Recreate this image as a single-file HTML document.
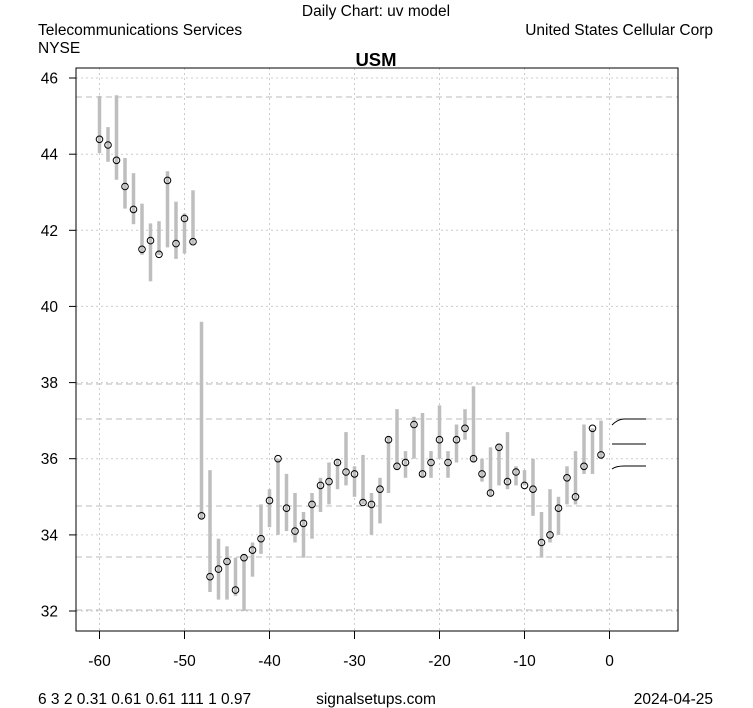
<!DOCTYPE html>
<html><head><meta charset="utf-8"><style>
body{margin:0;background:#fff;}
svg{display:block;font-family:"Liberation Sans",Arial,sans-serif;}
</style></head><body>
<svg id="s" width="753" height="708" viewBox="0 0 753 708" xmlns="http://www.w3.org/2000/svg">
<rect width="753" height="708" fill="#fff"/>
<text x="376" y="16" font-size="15.5" text-anchor="middle">Daily Chart: uv model</text>
<text x="38" y="35" font-size="15.5">Telecommunications Services</text>
<text x="38" y="53" font-size="15.5">NYSE</text>
<text x="713" y="35" font-size="15.5" text-anchor="end">United States Cellular Corp</text>
<text x="376" y="66" font-size="18.5" font-weight="bold" text-anchor="middle">USM</text>
<g id="g"></g>
<rect x="76" y="68" width="602" height="563" fill="none" stroke="#000" stroke-width="1"/>
<text x="38" y="704" font-size="15.5">6 3 2 0.31 0.61 0.61 111 1 0.97</text>
<text x="376" y="704" font-size="15.5" text-anchor="middle">signalsetups.com</text>
<text x="713" y="704" font-size="15.5" text-anchor="end">2024-04-25</text>
</svg>
<script>
var g=document.getElementById('g'),h='';
function X(d){return 99.5+(d+60)*8.5;}
function Y(v){return 611-(v-32)*38.07;}
for(var v=32;v<=46;v+=2){var y=Y(v).toFixed(1);h+='<line x1="76" x2="678" y1="'+y+'" y2="'+y+'" stroke="#ccc" stroke-dasharray="2,3"/>';
h+='<line x1="69" x2="76" y1="'+y+'" y2="'+y+'" stroke="#000"/><text x="58" y="'+(+y+5.5)+'" font-size="15.5" text-anchor="end">'+v+'</text>';}
for(var d=-60;d<=0;d+=10){var x=X(d);h+='<line y1="68" y2="631" x1="'+x+'" x2="'+x+'" stroke="#ccc" stroke-dasharray="2,3"/>';
h+='<line y1="631" y2="639" x1="'+x+'" x2="'+x+'" stroke="#000"/><text x="'+x+'" y="666" font-size="15.5" text-anchor="middle">'+d+'</text>';}
[97,384,419,506,557,610].forEach(function(y){h+='<line x1="76" x2="678" y1="'+y+'" y2="'+y+'" stroke="#bbb" stroke-dasharray="6,4"/>';});
var D=[[45.53,44.03,44.39],[44.71,43.8,44.24],[45.55,43.33,43.84],[43.9,42.57,43.15],[43.5,42.16,42.55],[42.7,41.36,41.5],[42.18,40.66,41.73],[42.24,41.35,41.37],[43.55,41.55,43.31],[42.75,41.25,41.65],[42.44,41.39,42.31],[43.05,41.64,41.7],
[39.6,34.4,34.5],[35.7,32.5,32.9],[33.9,32.3,33.1],[33.7,32.3,33.3],[33.4,32.4,32.55],[33.5,32.0,33.4],[33.8,32.9,33.6],[34.8,33.5,33.9],[35.2,34.2,34.9],[36.0,34.0,36.0],[35.6,34.1,34.7],[35.1,33.8,34.1],[34.6,33.4,34.3],[35.1,33.9,34.8],[35.5,34.6,35.3],[35.9,34.8,35.4],[36.0,35.2,35.9],[36.7,35.3,35.65],[35.8,35.0,35.6],[36.1,34.8,34.85],[35.1,34.0,34.8],[35.5,34.3,35.2],[36.6,35.1,36.5],[37.3,35.7,35.8],[36.2,35.5,35.9],[37.1,36.0,36.9],[37.2,35.5,35.6],[36.2,35.5,35.9],[37.4,36.0,36.5],[36.2,35.5,35.9],[36.9,35.9,36.5],[37.3,36.5,36.8],[37.9,35.9,36.0],[36.0,35.4,35.6],[36.3,35.0,35.1],[36.4,35.3,36.3],[36.7,35.2,35.4],[35.8,35.3,35.65],[35.7,35.3,35.3],[36.0,34.5,35.2],[34.6,33.4,33.8],[35.2,33.8,34.0],[35.0,34.0,34.7],[35.8,34.8,35.5],[36.2,34.8,35.0],[36.9,35.6,35.8],[36.8,35.6,36.8],[37.0,36.0,36.1]];
D.forEach(function(r,i){var x=X(-60+i);h+='<line x1="'+x+'" x2="'+x+'" y1="'+Y(r[0]).toFixed(1)+'" y2="'+Y(r[1]).toFixed(1)+'" stroke="#bebebe" stroke-width="3.5"/>';});
D.forEach(function(r,i){var x=X(-60+i);h+='<circle cx="'+x+'" cy="'+Y(r[2]).toFixed(1)+'" r="3.3" fill="none" stroke="#000" stroke-width="1"/>';});
h+='<path d="M612,425 Q618,419 624,419 L646,419 M612,444 L646,444 M612,469 Q616,466 624,466 L646,466" fill="none" stroke="#000" stroke-width="1"/>';
g.innerHTML=h;
</script>
</body></html>
